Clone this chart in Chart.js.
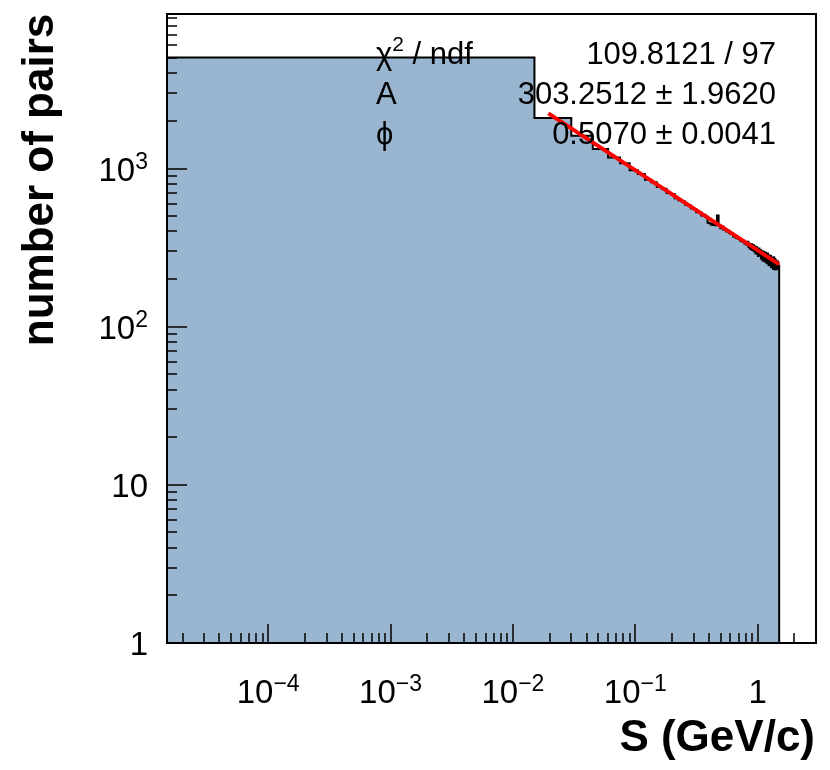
<!DOCTYPE html>
<html>
<head>
<meta charset="utf-8">
<script src="https://cdn.jsdelivr.net/npm/chart.js@4.4.1/dist/chart.umd.min.js"></script>
<style>
  html, body { margin: 0; padding: 0; background: #fff; }
  canvas { display: block; }
</style>
</head>
<body>
<canvas id="chart" width="830" height="770"></canvas>
<script>
// histogram: 100 bins of 0.015 GeV/c from 0 to 1.5
const binWidth = 0.015;
const counts = [
  5045, 2090, 1610, 1330, 1175, 1080, 975, 925, 850, 820,
  765, 745, 700, 690, 650, 630, 620, 590, 585, 560,
  555, 530, 530, 505, 510, 495, 455, 450, 440, 445,
  438, 505, 440, 420, 430, 410, 415, 400, 405, 392,
  385, 390, 372, 378, 365, 370, 358, 362, 350, 348,
  345, 350, 335, 340, 330, 345, 318, 335, 310, 332,
  305, 328, 300, 322, 290, 318, 296, 280, 312, 285,
  305, 270, 300, 262, 298, 280, 258, 295, 268, 252,
  290, 262, 245, 282, 255, 280, 238, 272, 250, 232,
  275, 248, 268, 230, 262, 242, 235, 258, 232, 244
];

// fit A * S^-phi, drawn between its end points
const fitX = [0.0195, 1.5];
const fitY = [2232, 248];

const xRange = [1.49e-5, 3.0];
const yRange = [1, 9490];

const xDecades = [-5, -4, -3, -2, -1, 0];
const xTickLabels = { '-4': ['10', '\u22124'], '-3': ['10', '\u22123'], '-2': ['10', '\u22122'], '-1': ['10', '\u22121'], '0': ['1', ''] };
const yDecades = [0, 1, 2, 3];
const yTickLabels = { '0': ['1', ''], '1': ['10', ''], '2': ['10', '2'], '3': ['10', '3'] };

const statNames = [['\u03c7', '2', ' / ndf'], ['A', '', ''], ['\u03d5', '', '']];
const statValues = ['109.8121 / 97', '303.2512 \u00b1 1.9620', '0.5070 \u00b1 0.0041'];

const FONT = '"Liberation Sans", Arial, Helvetica, sans-serif';

const histPoints = counts.map((c, i) => ({ x: Math.max(i * binWidth, xRange[0]), y: c }));
histPoints.push({ x: counts.length * binWidth, y: yRange[0] });

const fitPoints = fitX.map((v, i) => ({ x: v, y: fitY[i] }));

function supWidth(ctx, base, sup, bf, sf) {
    ctx.font = bf;
    let w = ctx.measureText(base).width;
    ctx.font = sf;
    if (sup) w += ctx.measureText(sup).width;
    return w;
}

function drawSup(ctx, base, sup, x, y, bf, sf, rise) {
    ctx.textAlign = 'left';
    ctx.font = bf;
    ctx.fillText(base, x, y);
    const w = ctx.measureText(base).width;
    if (sup) {
        ctx.font = sf;
        ctx.fillText(sup, x + w, y - rise);
        return w + ctx.measureText(sup).width;
    }
    return w;
}

const rootFrame = {
    id: 'rootFrame',
    afterDatasetsDraw(chart) {
        const { ctx, chartArea: a, scales: { x, y } } = chart;
        ctx.save();
        ctx.strokeStyle = '#000';
        ctx.fillStyle = '#000';

        // ticks (inside the frame, left and bottom only)
        ctx.lineWidth = 1.5;
        ctx.beginPath();
        xDecades.forEach(e => {
            for (let k = 1; k < 10; k++) {
                const v = k * Math.pow(10, e);
                if (v < xRange[0] || v >= xRange[1]) continue;
                const px = Math.round(x.getPixelForValue(v));
                ctx.moveTo(px, a.bottom);
                ctx.lineTo(px, a.bottom - (k === 1 ? 19 : 10));
            }
        });
        yDecades.forEach(e => {
            for (let k = 1; k < 10; k++) {
                const v = k * Math.pow(10, e);
                if (v < yRange[0] || v >= yRange[1]) continue;
                const py = Math.round(y.getPixelForValue(v));
                ctx.moveTo(a.left, py);
                ctx.lineTo(a.left + (k === 1 ? 20 : 10), py);
            }
        });
        ctx.stroke();

        ctx.lineWidth = 2;
        ctx.strokeRect(a.left, a.top, a.right - a.left, a.bottom - a.top);

        // tick labels
        const bf = '33px ' + FONT, sf = '23px ' + FONT;
        ctx.textBaseline = 'alphabetic';
        Object.keys(xTickLabels).forEach(e => {
            const [b, s] = xTickLabels[e];
            const px = x.getPixelForValue(Math.pow(10, +e));
            const w = supWidth(ctx, b, s, bf, sf);
            drawSup(ctx, b, s, px - w / 2, 703, bf, sf, 12);
        });
        Object.keys(yTickLabels).forEach(e => {
            const [b, s] = yTickLabels[e];
            const py = y.getPixelForValue(Math.pow(10, +e));
            const w = supWidth(ctx, b, s, bf, sf);
            drawSup(ctx, b, s, 148 - w, py + 12, bf, sf, 12);
        });

        // axis titles
        ctx.font = 'bold 44px ' + FONT;
        ctx.textAlign = 'right';
        ctx.fillText('S (GeV/c)', 815, 751);
        ctx.save();
        ctx.translate(53, 180);
        ctx.rotate(-Math.PI / 2);
        ctx.textAlign = 'center';
        ctx.fillText('number of pairs', 0, 0);
        ctx.restore();

        // fit statistics
        const sbf = '31px ' + FONT, ssf = '21px ' + FONT;
        const rows = [64, 103.5, 143.5];
        statNames.forEach((n, i) => {
            let w = drawSup(ctx, n[0], n[1], 376, rows[i], sbf, ssf, 13);
            if (n[2]) {
                ctx.font = sbf;
                ctx.fillText(n[2], 376 + w, rows[i]);
            }
            ctx.font = sbf;
            ctx.textAlign = 'right';
            ctx.fillText(statValues[i], 776, rows[i]);
        });
        ctx.restore();
    }
};

new Chart(document.getElementById('chart'), {
    type: 'scatter',
    data: {
        datasets: [{
            data: histPoints,
            order: 2,
            showLine: true,
            stepped: true,
            fill: 'start',
            backgroundColor: 'rgb(154, 181, 207)',
            borderColor: '#000',
            borderWidth: 2,
            pointRadius: 0
        }, {
            data: fitPoints,
            order: 1,
            showLine: true,
            fill: false,
            borderColor: '#ff0000',
            borderWidth: 4,
            pointRadius: 0
        }]
    },
    options: {
        responsive: false,
        animation: false,
        devicePixelRatio: 1,
        layout: { padding: { left: 167, top: 14, right: 14, bottom: 127 } },
        plugins: { legend: { display: false }, tooltip: { enabled: false } },
        scales: {
            x: { type: 'logarithmic', min: xRange[0], max: xRange[1], display: false },
            y: { type: 'logarithmic', min: yRange[0], max: yRange[1], display: false }
        }
    },
    plugins: [rootFrame]
});
</script>
</body>
</html>
